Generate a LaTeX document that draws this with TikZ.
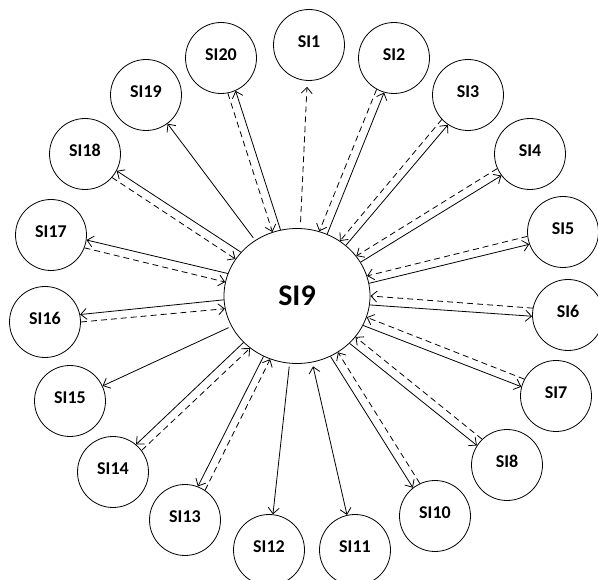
\documentclass[tikz,border=0pt]{standalone}
\usepackage{fontspec}
\setmainfont{Carlito}
\usetikzlibrary{shapes.geometric, calc, arrows.meta}

\tikzset{
  >={Straight Barb[length=6pt,width=11pt]},
  hub/.style={draw, ellipse, minimum width=146pt, minimum height=135pt, inner sep=0pt,
    font=\bfseries\fontsize{30}{30}\selectfont},
  sat/.style={draw, circle, minimum size=71pt, inner sep=0pt,
    text height=11pt, text depth=6pt,
    font=\bfseries\fontsize{18}{18}\selectfont},
  sendline/.style={->},
  replyline/.style={->, dash pattern=on 6pt off 4pt},
}

\begin{document}
\begin{tikzpicture}[x=1pt, y=-1pt, line width=0.8pt]
  \useasboundingbox (0,0) rectangle (598,580);
  % centre node
  \node[hub] (si9) at (297,296) {SI9};
  % the others round it
  \foreach \k/\px/\py in {1/309/45, 2/394/58, 3/468/95, 4/530/154, 5/563/232,
      6/568/315, 7/556/396, 8/507/465, 10/435/516, 11/355/550, 12/269/550,
      13/185/520, 14/113/472, 15/70/401, 16/45/322, 17/51/235, 18/85/154,
      19/146/95, 20/221/58}
    \node[sat] (si\k) at (\px,\py) {SI\k};

  % two-way pairs: solid out, dashed back
  \foreach \k in {2,3,4,5,6,7,8,10,13,14,16,17,18,20}{
    \draw[sendline] let \p1=($(si\k)-(si9)$), \n1={atan2(\y1,\x1)},
        \n2={\n1-3.3}, \n3={\n1+186.5} in (si9.\n2) -- (si\k.\n3);
    \draw[replyline] let \p1=($(si\k)-(si9)$), \n1={atan2(\y1,\x1)},
        \n2={\n1+3.3}, \n3={\n1+173.5} in (si\k.\n3) -- (si9.\n2);
  }

  % single links
  \draw[replyline, shorten <=6pt, shorten >=6pt] (si9) -- (si1);
  \draw[<->, shorten <=4pt] (si9) -- (si11);
  \foreach \k in {12,15,19}
    \draw[sendline, shorten <=3pt] (si9) -- (si\k);
\end{tikzpicture}
\end{document}
